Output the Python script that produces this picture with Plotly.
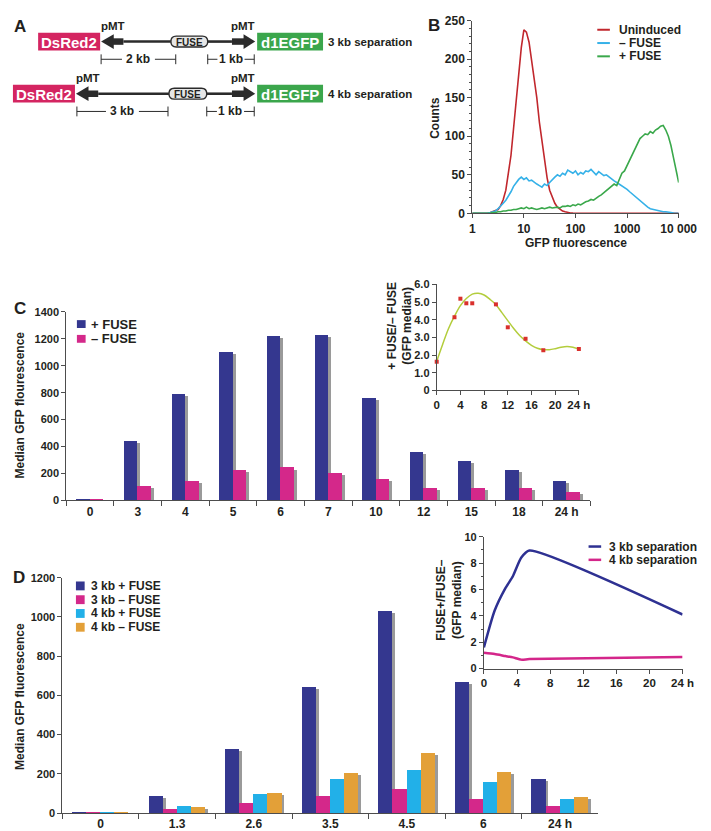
import plotly.graph_objects as go

W, H = 711, 831
FONT = "Liberation Sans, Arial, Helvetica, sans-serif"
INK = "#231f20"
AX = "#4d4d4d"

# ---------------- data ----------------
# Panel B: flow cytometry histograms
gfp = [1, 1.58, 2.0, 2.24, 2.51, 2.82, 3.16, 3.55, 3.98, 4.47, 5.01, 5.62, 6.31, 7.08, 7.94, 8.91,
       10, 11.2, 12.6, 14.1, 15.8, 17.8, 20.0, 22.4, 25.1, 28.2, 31.6, 35.5, 39.8, 44.7, 50.1, 56.2, 63.1, 70.8, 79.4, 89.1,
       100, 112, 126, 141, 158, 178, 200, 224, 251, 282, 316, 355, 398, 447, 501, 562, 631, 708, 794, 891,
       1000, 1122, 1259, 1413, 1585, 1778, 1995, 2239, 2512, 2818, 3162, 3548, 3981, 4467, 5012, 5623, 6310, 7079, 7943, 8913,
       10000]
cnt_uninduced = [0, 0, 0.5, 1, 2, 3, 5, 10, 18, 30, 55, 75, 110, 145, 185, 215,
                 238, 235, 222, 200, 178, 150, 118, 92, 66, 46, 30, 20, 13, 8, 5, 3, 2, 1, 0.5, 0.3,
                 0, 0, 0, 0, 0, 0, 0, 0, 0, 0, 0, 0, 0, 0, 0, 0, 0, 0, 0, 0,
                 0, 0, 0, 0, 0, 0, 0, 0, 0, 0, 0, 0, 0, 0, 0, 0, 0, 0, 0, 0,
                 0]
cnt_minus = [0, 0, 0.5, 1, 2, 3, 6, 9, 13, 17, 22, 28, 35, 40, 44, 47,
             44, 46, 42, 43, 40, 38, 36, 34, 38, 36, 40, 44, 47, 50, 48, 52, 50, 56, 54, 52,
             55, 50, 53, 51, 55, 54, 57, 53, 50, 54, 52, 49, 50, 47, 44, 42, 40, 38, 36, 33,
             31, 28, 25, 22, 19, 16, 13, 10, 8, 6, 5, 4, 3, 2.5, 2, 2, 1, 1, 0.5, 0.3,
             0]
cnt_plus = [0, 0, 0, 0.5, 1, 1, 2, 2, 3, 3, 4, 4, 5, 5, 6, 7,
            6, 8, 6, 7, 6, 5, 6, 7, 6, 7, 8, 7, 8, 8, 7, 9, 9, 10, 9, 11,
            10, 12, 11, 13, 15, 16, 18, 17, 20, 22, 24, 27, 30, 33, 35, 38, 36, 45, 52, 55,
            62, 68, 75, 82, 90, 97, 100, 103, 102, 106, 104, 108, 110, 113, 114, 108, 100, 88, 72, 56,
            40]
b_ticks = [1, 10, 100, 1000, 10000]
b_ticktext = ["1", "10", "100", "1000", "10 000"]

# Panel C
c_times = ["0", "3", "4", "5", "6", "7", "10", "12", "15", "18", "24 h"]
c_plus_fuse = [12, 444, 790, 1105, 1220, 1229, 761, 356, 293, 227, 144]
c_minus_fuse = [3, 107, 146, 229, 244, 200, 156, 95, 95, 95, 59]
ci_hours = [0, 3, 4, 5, 6, 7, 10, 12, 15, 18, 24]
ci_ratio = [1.62, 4.14, 5.19, 4.93, 4.93, 6.1, 4.87, 3.57, 2.92, 2.27, 2.34]
ci_fit_hours = [0, 1, 2, 3, 4, 5, 6, 7, 8, 9, 10, 11, 12, 13, 14, 15, 16, 17, 18, 19, 20, 21, 22, 23, 24]
ci_fit = [1.65, 2.6, 3.5, 4.2, 4.8, 5.2, 5.45, 5.5, 5.4, 5.15, 4.85, 4.4, 3.95, 3.5, 3.1, 2.8,
          2.55, 2.38, 2.3, 2.3, 2.36, 2.44, 2.48, 2.44, 2.34]
ci_yticks = [0, 1, 2, 3, 4, 5, 6]
ci_yticktext = ["0", "1.0", "2.0", "3.0", "4.0", "5.0", "6.0"]
inset_xticks = [0, 4, 8, 12, 16, 20, 24]
inset_xticktext = ["0", "4", "8", "12", "16", "20", "24 h"]

# Panel D
d_times = ["0", "1.3", "2.6", "3.5", "4.5", "6", "24 h"]
d_3kb_plus = [8, 89, 330, 644, 1033, 668, 177]
d_3kb_minus = [2, 20, 52, 89, 122, 72, 38]
d_4kb_plus = [8, 37, 97, 174, 219, 159, 72]
d_4kb_minus = [3, 32, 104, 204, 306, 211, 82]
di_hours = [0, 1.3, 2.6, 3.5, 4.5, 5.5, 24]
di_3kb = [1.6, 4.4, 6.1, 7.0, 8.4, 8.95, 4.1]
di_4kb = [1.2, 1.1, 0.95, 0.85, 0.68, 0.72, 0.87]

# ---------------- colours ----------------
NAVY = "#34378f"
MAGENTA = "#d4288a"
CYAN = "#22b0e8"
ORANGE = "#e3a038"
SHADOW = "#9a9a9a"
RED = "#c1272d"
LBLUE = "#35b1e8"
GREEN = "#3aa84b"


def dom_x(a, b):
    return [a / W, b / W]


def dom_y(top, bottom):
    return [1 - bottom / H, 1 - top / H]


fig = go.Figure()

# ---- Panel B ----
for name, ys, col in [("Uninduced", cnt_uninduced, RED), ("– FUSE", cnt_minus, LBLUE), ("+ FUSE", cnt_plus, GREEN)]:
    fig.add_trace(go.Scatter(x=gfp, y=ys, mode="lines", line=dict(color=col, width=1.6),
                             name=name, xaxis="x", yaxis="y", showlegend=False, cliponaxis=True))

# ---- Panel C bars ----
CW = 0.285
CSH = 0.06
cdrop = 15
fig.add_trace(go.Bar(x=c_times, y=[max(v - cdrop, 0) for v in c_plus_fuse], width=CW, offset=-CW + CSH,
                     marker=dict(color=SHADOW, line=dict(width=0)), xaxis="x2", yaxis="y2", showlegend=False))
fig.add_trace(go.Bar(x=c_times, y=[max(v - cdrop, 0) for v in c_minus_fuse], width=CW, offset=CSH,
                     marker=dict(color=SHADOW, line=dict(width=0)), xaxis="x2", yaxis="y2", showlegend=False))
fig.add_trace(go.Bar(x=c_times, y=c_plus_fuse, width=CW, offset=-CW, name="+ FUSE",
                     marker=dict(color=NAVY, line=dict(width=0)), xaxis="x2", yaxis="y2", showlegend=False))
fig.add_trace(go.Bar(x=c_times, y=c_minus_fuse, width=CW, offset=0, name="– FUSE",
                     marker=dict(color=MAGENTA, line=dict(width=0)), xaxis="x2", yaxis="y2", showlegend=False))

# ---- Panel C inset ----
fig.add_trace(go.Scatter(x=ci_fit_hours, y=ci_fit, mode="lines", line=dict(color="#b3cd3c", width=1.5, shape="spline"),
                         xaxis="x3", yaxis="y3", showlegend=False))
fig.add_trace(go.Scatter(x=ci_hours, y=ci_ratio, mode="markers", marker=dict(color="#d9302c", size=4, symbol="square"),
                         xaxis="x3", yaxis="y3", showlegend=False, cliponaxis=False))

# ---- Panel D bars ----
DW = 0.184
DSH = 0.038
ddrop = 10
d_series = [(d_3kb_plus, NAVY), (d_3kb_minus, MAGENTA), (d_4kb_plus, CYAN), (d_4kb_minus, ORANGE)]
for i, (vals, col) in enumerate(d_series):
    fig.add_trace(go.Bar(x=d_times, y=[max(v - ddrop, 0) for v in vals], width=DW, offset=-2 * DW + i * DW + DSH,
                         marker=dict(color=SHADOW, line=dict(width=0)), xaxis="x4", yaxis="y4", showlegend=False))
for i, (vals, col) in enumerate(d_series):
    fig.add_trace(go.Bar(x=d_times, y=vals, width=DW, offset=-2 * DW + i * DW,
                         marker=dict(color=col, line=dict(width=0)), xaxis="x4", yaxis="y4", showlegend=False))

# ---- Panel D inset ----
fig.add_trace(go.Scatter(x=di_hours, y=di_3kb, mode="lines", line=dict(color="#2e3192", width=2.5, shape="spline", smoothing=0.6),
                         xaxis="x5", yaxis="y5", showlegend=False))
fig.add_trace(go.Scatter(x=di_hours, y=di_4kb, mode="lines", line=dict(color="#d4268a", width=2.5, shape="spline", smoothing=0.6),
                         xaxis="x5", yaxis="y5", showlegend=False))

# pixel overlay axis
fig.add_trace(go.Scatter(x=[], y=[], xaxis="x6", yaxis="y6", showlegend=False))

axis_common = dict(showline=True, linecolor=AX, linewidth=1, ticks="outside", tickcolor=AX, ticklen=4,
                   showgrid=False, zeroline=False, fixedrange=True,
                   tickfont=dict(family=FONT, size=11, color=INK, weight="bold"))


def ax(**kw):
    d = dict(axis_common)
    d.update(kw)
    return d


layout = dict(
    width=W, height=H, autosize=False,
    margin=dict(l=0, r=0, t=0, b=0, pad=0),
    paper_bgcolor="white", plot_bgcolor="rgba(0,0,0,0)",
    font=dict(family=FONT, size=11, color=INK, weight="bold"),
    barmode="overlay", bargap=0,
    showlegend=False,
    # B
    xaxis=ax(domain=dom_x(476, 689), anchor="y", type="log", range=[0, 4], tickvals=b_ticks, ticktext=b_ticktext,
             tickfont=dict(family=FONT, size=12, color=INK, weight="bold")),
    yaxis=ax(domain=dom_y(6.7, 202.5), anchor="x", range=[0, 250], tickvals=[0, 50, 100, 150, 200, 250],
             tickfont=dict(family=FONT, size=12, color=INK, weight="bold"),
             minor=dict(dtick=10, ticks="outside", ticklen=2, tickcolor=AX)),
    # C bars
    xaxis2=ax(domain=dom_x(57, 598), anchor="y2", type="category", range=[-0.5, 10.5], tickson="boundaries",
              ticklen=5, tickfont=dict(family=FONT, size=12, color=INK, weight="bold")),
    yaxis2=ax(domain=dom_y(302.7, 494), anchor="x2", range=[0, 1400], dtick=200),
    # C inset
    xaxis3=ax(domain=dom_x(439.3, 586), anchor="y3", range=[0, 24], tickvals=inset_xticks, ticktext=inset_xticktext,
              tickfont=dict(family=FONT, size=11.5, color=INK, weight="bold")),
    yaxis3=ax(domain=dom_y(274.7, 382.3), anchor="x3", range=[0, 6], tickvals=ci_yticks, ticktext=ci_yticktext),
    # D bars
    xaxis4=ax(domain=dom_x(53, 606), anchor="y4", type="category", range=[-0.5, 6.5], tickson="boundaries",
              ticklen=5, tickfont=dict(family=FONT, size=12, color=INK, weight="bold")),
    yaxis4=ax(domain=dom_y(572.7, 811.7), anchor="x4", range=[0, 1200], dtick=200),
    # D inset
    xaxis5=ax(domain=dom_x(488, 693), anchor="y5", range=[0, 24], tickvals=inset_xticks, ticktext=inset_xticktext,
              tickfont=dict(family=FONT, size=11.5, color=INK, weight="bold")),
    yaxis5=ax(domain=dom_y(531, 665), anchor="x5", range=[0, 10], dtick=2,
              minor=dict(dtick=1, ticks="outside", ticklen=2, tickcolor=AX)),
    # pixel overlay
    xaxis6=dict(domain=[0, 1], range=[0, W], visible=False, fixedrange=True, anchor="y6"),
    yaxis6=dict(domain=[0, 1], range=[H, 0], visible=False, fixedrange=True, anchor="x6"),
)
fig.update_layout(**layout)

shapes = []
annots = []


def txt(x, y, s, size=12, xanchor="center", color=INK, angle=0, weight="bold"):
    annots.append(dict(x=x, y=y, xref="x6", yref="y6", text=s, showarrow=False, xanchor=xanchor, yanchor="middle",
                       textangle=angle, font=dict(family=FONT, size=size, color=color, weight=weight)))


def rect(x0, y0, x1, y1, fill, line=None, lw=0):
    shapes.append(dict(type="rect", xref="x6", yref="y6", x0=x0, y0=y0, x1=x1, y1=y1, fillcolor=fill,
                       line=dict(color=line or fill, width=lw), layer="above"))


def path(d, fill=None, line=None, lw=0):
    s = dict(type="path", xref="x6", yref="y6", path=d, layer="above", line=dict(width=lw, color=line or "rgba(0,0,0,0)"))
    if fill:
        s["fillcolor"] = fill
    shapes.append(s)


def seg(x0, y0, x1, y1, col=INK, lw=1):
    shapes.append(dict(type="line", xref="x6", yref="y6", x0=x0, y0=y0, x1=x1, y1=y1, line=dict(color=col, width=lw), layer="above"))


# ---- Panel A schematic ----
DSRED = "#d42561"
EGFP = "#3ba64c"
DARK = "#2b2b2b"


def construct(cy, red_x0, red_x1, fuse_x0, fuse_x1, left_scale, right_scale, kb_text, sep_text):
    rect(red_x0, cy - 9, red_x1, cy + 9, DSRED)
    txt((red_x0 + red_x1) / 2, cy + 0.5, "DsRed2", size=15, color="white")
    tip = red_x1 + 1
    hb = tip + 13
    path(f"M {tip},{cy} L {hb},{cy-7.5} L {hb},{cy+7.5} Z", fill=DARK)
    rect(hb - 1, cy - 3.3, hb + 10, cy + 3.3, DARK)
    seg(hb + 10, cy, fuse_x0, cy, DARK, 2.6)
    seg(fuse_x1, cy, 228, cy, DARK, 2.6)
    rect(228, cy - 3.3, 241, cy + 3.3, DARK)
    path(f"M 252,{cy} L 240,{cy-7.5} L 240,{cy+7.5} Z", fill=DARK)
    r = 5.5
    y0, y1 = cy - r, cy + r
    path(f"M {fuse_x0+r},{y0} L {fuse_x1-r},{y0} Q {fuse_x1},{y0} {fuse_x1},{cy} Q {fuse_x1},{y1} {fuse_x1-r},{y1} "
         f"L {fuse_x0+r},{y1} Q {fuse_x0},{y1} {fuse_x0},{cy} Q {fuse_x0},{y0} {fuse_x0+r},{y0} Z",
         fill="#e6e6e6", line=DARK, lw=1.4)
    txt((fuse_x0 + fuse_x1) / 2, cy + 0.5, "FUSE", size=10)
    rect(254, cy - 9, 322, cy + 9, EGFP)
    txt(288, cy + 0.5, "d1EGFP", size=15, color="white")
    txt(325, cy, sep_text, size=11.5, xanchor="left")
    txt(hb - 1, cy - 16, "pMT", size=11.5)
    txt(239, cy - 16, "pMT", size=11.5)
    # scale bars
    sy = cy + 18
    lx0, lx1 = left_scale
    mid = (lx0 + lx1) / 2
    seg(lx0, sy - 5, lx0, sy + 5, DARK, 1)
    seg(lx1, sy - 5, lx1, sy + 5, DARK, 1)
    seg(lx0, sy, mid - 17, sy, DARK, 1)
    seg(mid + 17, sy, lx1, sy, DARK, 1)
    txt(mid, sy, kb_text, size=12)
    rx0, rx1 = right_scale
    rm = (rx0 + rx1) / 2
    seg(rx0, sy - 5, rx0, sy + 5, DARK, 1)
    seg(rx1, sy - 5, rx1, sy + 5, DARK, 1)
    seg(rx0, sy, rm - 14, sy, DARK, 1)
    seg(rm + 14, sy, rx1, sy, DARK, 1)
    txt(rm, sy, "1 kb", size=12)


construct(28, 28, 92, 165, 203, (93, 170), (203, 251), "2 kb", "3 kb separation")
construct(81, 2, 66, 163, 202, (68, 162), (202, 251), "3 kb", "4 kb separation")

# panel letters
txt(9, 13, "A", size=17)
txt(437, 12, "B", size=17)
txt(9, 299, "C", size=17)
txt(8, 572, "D", size=17)

# ---- Panel B legend & titles ----
for i, (lab, col) in enumerate([("Uninduced", RED), ("– FUSE", LBLUE), ("+ FUSE", GREEN)]):
    yy = 16 + i * 13.5
    seg(605, yy, 618, yy, col, 2)
    txt(625, yy, lab, size=12, xanchor="left")
txt(438, 105, "Counts", size=12, angle=-90)
txt(583, 233, "GFP fluorescence", size=12)

# ---- Panel C legend & titles ----
for i, (lab, col) in enumerate([("+ FUSE", NAVY), ("– FUSE", MAGENTA)]):
    yy = 315 + i * 15
    rect(68, yy - 4, 77, yy + 4, col)
    txt(80, yy, lab, size=13, xanchor="left")
txt(9, 397, "Median GFP flourescence", size=12, angle=-90)
txt(401, 317, "+ FUSE/– FUSE<br>(GFP median)", size=12, angle=-90)

# ---- Panel D legend & titles ----
for i, (lab, col) in enumerate([("3 kb + FUSE", NAVY), ("3 kb – FUSE", MAGENTA), ("4 kb + FUSE", CYAN), ("4 kb – FUSE", ORANGE)]):
    yy = 581 + i * 14
    rect(67, yy - 4.5, 76, yy + 4.5, col)
    txt(80, yy, lab, size=12, xanchor="left")
txt(9, 693, "Median GFP fluorescence", size=12, angle=-90)
for i, (lab, col) in enumerate([("3 kb separation", "#2e3192"), ("4 kb separation", "#d4268a")]):
    yy = 541 + i * 13.5
    seg(596, yy, 609, yy, col, 2.5)
    txt(615, yy, lab, size=12, xanchor="left")
txt(452, 596, "FUSE+/FUSE–<br>(GFP median)", size=12, angle=-90)

fig.update_layout(shapes=shapes, annotations=annots)
fig.write_html("out.html")
